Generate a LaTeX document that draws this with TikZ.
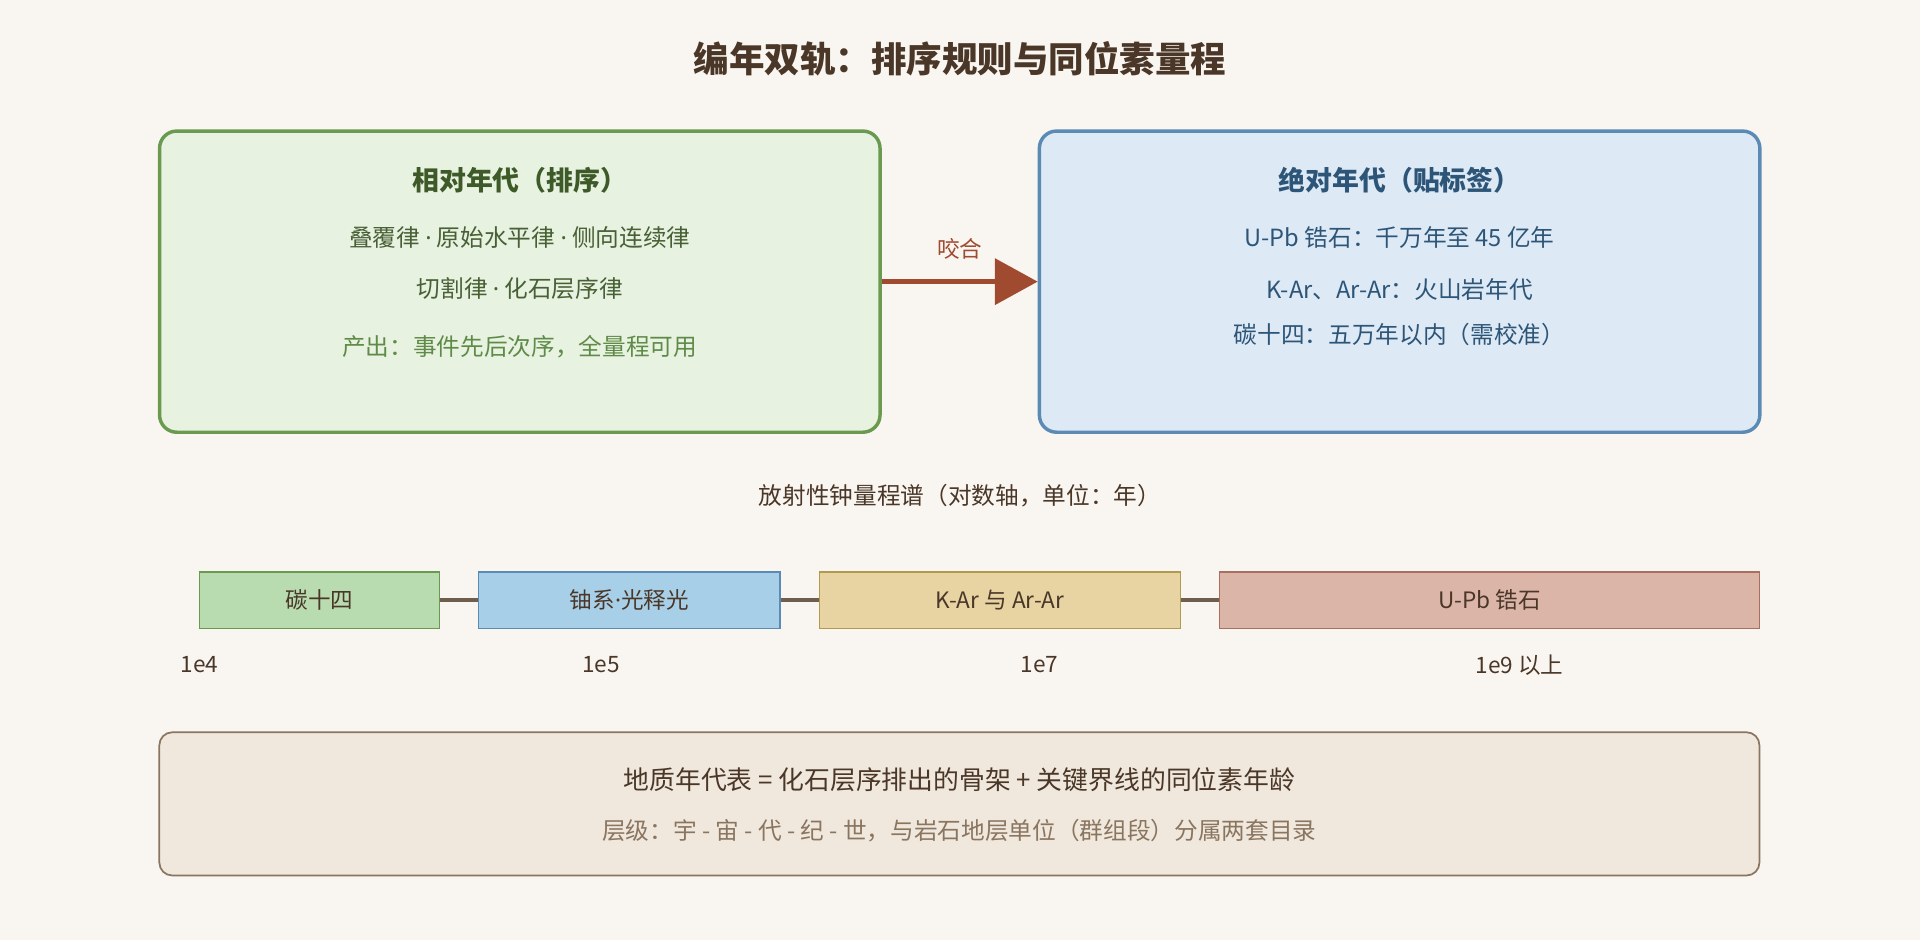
\documentclass[tikz,border=0pt]{standalone}
\usepackage{fontspec}
\setmainfont{Noto Sans CJK SC}
\newfontfamily\latin{Noto Sans}
\usetikzlibrary{arrows.meta}
\usetikzlibrary{positioning}
\definecolor{bgc}{HTML}{F9F6F1}
\definecolor{ink}{HTML}{4A3728}
\definecolor{gfill}{HTML}{E8F2E0}
\definecolor{gline}{HTML}{6A9A50}
\definecolor{gtext}{HTML}{3D5A28}
\definecolor{bfill}{HTML}{DDE9F5}
\definecolor{bline}{HTML}{5B8AB5}
\definecolor{btext}{HTML}{2D5577}
\definecolor{mred}{HTML}{A04A30}
\definecolor{nfill}{HTML}{F0E8DC}
\definecolor{nline}{HTML}{8A7560}
\definecolor{c14fill}{HTML}{B8DCB0}
\definecolor{ufill}{HTML}{A8CFE8}
\definecolor{kfill}{HTML}{E8D3A3}
\definecolor{kline}{HTML}{B09A50}
\definecolor{zfill}{HTML}{DBB5A8}
\definecolor{zline}{HTML}{A87060}
\newcommand{\mdot}{{\latin ·}}
\tikzset{
  panel/.style = {draw, rounded corners=8, line width=1.6pt, minimum height=4.92cm, minimum width=11.77cm},
  bar/.style = {draw, line width=0.6pt, minimum height=0.92cm, font=\fontsize{10.5}{12}\selectfont, text=ink},
  tick/.style = {font=\fontsize{10.5}{12}\selectfont, text=ink},
  link/.style = {draw=nline!80!black, line width=1.6pt}
}
\begin{document}
\begin{tikzpicture}[x=0.02cm, y=-0.02cm]
    \fill [bgc] (0, 0) rectangle (1568, 768);

    \node (title) at (784, 48) [font=\fontsize{16.5}{18}\selectfont\bfseries, text=ink] {编年双轨：排序规则与同位素量程};

    % two panels
    \node (rel) at (424.5, 230) [panel, draw=gline, fill=gfill] {};
    \node (abs) at (1143, 230) [panel, draw=bline, fill=bfill] {};
    \node at (424.5, 147) [font=\fontsize{12.5}{14}\selectfont\bfseries, text=gtext] {相对年代（排序）};
    \node at (424.5, 194) [font=\fontsize{11}{13}\selectfont, text=gtext!85!gray] {叠覆律 \mdot{} 原始水平律 \mdot{} 侧向连续律};
    \node at (424.5, 236) [font=\fontsize{11}{13}\selectfont, text=gtext!85!gray] {切割律 \mdot{} 化石层序律};
    \node at (424.5, 283) [font=\fontsize{11}{13}\selectfont, text=gline!90!black] {产出：事件先后次序，全量程可用};
    \node at (1143, 147) [font=\fontsize{12.5}{14}\selectfont\bfseries, text=btext] {绝对年代（贴标签）};
    \node at (1143, 194) [font=\fontsize{11}{13}\selectfont, text=btext] {U-Pb 锆石：千万年至 45 亿年};
    \node at (1143, 236) [font=\fontsize{11}{13}\selectfont, text=btext] {K-Ar、Ar-Ar：火山岩年代};
    \node at (1143, 273) [font=\fontsize{11}{13}\selectfont, text=btext] {碳十四：五万年以内（需校准）};
    \draw [mred, line width=2pt, -{Triangle[length=0.7cm, width=0.75cm]}] (rel.east) -- node [above=6pt, font=\fontsize{10.5}{12}\selectfont] {咬合} (abs.west);

    % range bars
    \node (axis) at (784, 405) [font=\fontsize{11}{13}\selectfont, text=ink] {放射性钟量程谱（对数轴，单位：年）};
    \node (c14) at (261, 490) [bar, draw=gline, fill=c14fill, minimum width=3.92cm] {碳十四};
    \node (useries) at (514, 490) [bar, draw=bline, fill=ufill, minimum width=4.92cm] {铀系\mdot{}光释光};
    \node (kar) at (816.5, 490) [bar, draw=kline, fill=kfill, minimum width=5.9cm] {K-Ar 与 Ar-Ar};
    \node (upb) at (1216.5, 490) [bar, draw=zline, fill=zfill, minimum width=8.82cm] {U-Pb 锆石};
    \draw [link] (c14) -- (useries);
    \draw [link] (useries) -- (kar);
    \draw [link] (kar) -- (upb);
    \node (t4) at (163, 543) [tick] {1e4};
    \node (t5) at (491, 543) [tick] {1e5};
    \node (t7) at (849, 543) [tick] {1e7};
    \node (t9) at (1241, 543) [tick] {1e9 以上};

    % summary
    \node (sum) at (783.5, 656.5) [draw=nline, fill=nfill, line width=0.8pt, rounded corners=6, minimum width=26.14cm, minimum height=2.34cm] {};
    \node at (783.5, 637) [font=\fontsize{12}{14}\selectfont, text=ink] {地质年代表 = 化石层序排出的骨架 + 关键界线的同位素年龄};
    \node at (783.5, 678) [font=\fontsize{11}{13}\selectfont, text=nline] {层级：宇 - 宙 - 代 - 纪 - 世，与岩石地层单位（群组段）分属两套目录};
\end{tikzpicture}
\end{document}
